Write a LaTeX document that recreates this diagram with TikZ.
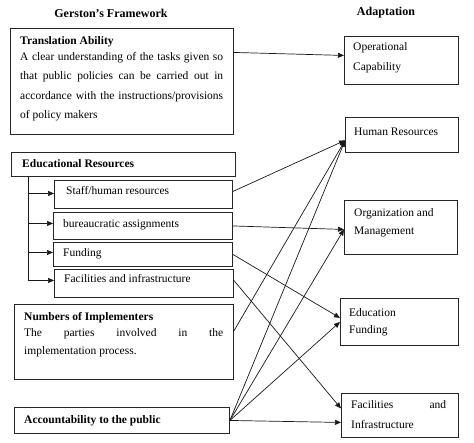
\documentclass[tikz,border=0pt]{standalone}
\usepackage{fontspec}
\setmainfont{Liberation Serif}
\usetikzlibrary{arrows.meta,calc}
\begin{document}
\begin{tikzpicture}[x=1pt,y=1pt,
  box/.style={draw=black!85, line width=0.9pt, inner sep=0pt, anchor=north west},
  txt/.style={inner sep=0pt, font=\fontsize{11.5}{19.5}\selectfont},
  con/.style={line width=0.7pt, draw=black!90, -{Triangle[length=6pt,width=5pt]}},
  ttl/.style={inner sep=0pt, font=\fontsize{12}{14}\selectfont\bfseries}]
\useasboundingbox (0,0) rectangle (474,-443);
% titles
\node[ttl] (gt) at (111,-13) {Gerston’s Framework};
\node[ttl] (at) at (386,-13) {Adaptation};
% left boxes
\node[box, minimum width=223pt, minimum height=106pt] (trans) at (10,-28) {};
\node[box, minimum width=224pt, minimum height=24pt] (edu) at (11,-152) {};
\node[box, minimum width=178pt, minimum height=28pt] (staff) at (54,-180) {};
\node[box, minimum width=179pt, minimum height=27pt] (bureau) at (53,-212) {};
\node[box, minimum width=179pt, minimum height=24pt] (fund) at (53,-242) {};
\node[box, minimum width=179pt, minimum height=28pt] (facil) at (54,-269) {};
\node[box, minimum width=219pt, minimum height=75pt] (num) at (14,-304) {};
\node[box, minimum width=215pt, minimum height=26pt] (acc) at (14,-407) {};
% right boxes
\node[box, minimum width=114pt, minimum height=48pt] (opcap) at (344,-36) {};
\node[box, minimum width=113pt, minimum height=35pt] (hr) at (345,-117) {};
\node[box, minimum width=113pt, minimum height=54pt] (org) at (344,-200) {};
\node[box, minimum width=118pt, minimum height=47pt] (edf) at (340,-298) {};
\node[box, minimum width=117pt, minimum height=44pt] (fi) at (341,-393) {};
% texts
\node[txt, anchor=north west, text width=203pt, align=justify] (transt) at (20,-36)
  {\textbf{Translation Ability}\\[-3.5pt]A clear understanding of the tasks given so\linebreak that public policies can be carried out in\linebreak accordance with the instructions/provisions\linebreak of policy makers};
\node[txt, anchor=base west] (edut) at (22,-168) {\textbf{Educational Resources}};
\node[txt, anchor=base west] (stafft) at (66,-195) {Staff/human resources};
\node[txt, anchor=base west] (bureaut) at (63,-228) {bureaucratic assignments};
\node[txt, anchor=base west] (fundt) at (63,-257) {Funding};
\node[txt, anchor=base west] (facilt) at (64,-283) {Facilities and infrastructure};
\node[txt, anchor=north west, text width=199pt, align=justify, font=\fontsize{11.5}{18}\selectfont] (numt) at (24,-312)
  {\textbf{Numbers of Implementers}\\[-2pt]The parties involved in the\linebreak implementation process.};
\node[txt, anchor=base west] (acct) at (24,-424) {\textbf{Accountability to the public}};
\node[txt, anchor=north west, align=left, font=\fontsize{11.5}{20}\selectfont] (opcapt) at (353,-42) {Operational\\Capability};
\node[txt, anchor=base west] (hrt) at (354,-136) {Human Resources};
\node[txt, anchor=north west, align=left, font=\fontsize{11.5}{18}\selectfont] (orgt) at (354,-208) {Organization and\\Management};
\node[txt, anchor=north west, align=left, font=\fontsize{11.5}{17}\selectfont] (edft) at (349,-308) {Education\\Funding};
\node[txt, anchor=north west, text width=95pt, align=justify, font=\fontsize{11.5}{20}\selectfont] (fit) at (351,-400) {Facilities and\linebreak Infrastructure};
% trunk from Educational Resources
\coordinate (trunk) at ([xshift=17pt]edu.south west);
\draw[con] (trunk) |- ([yshift=1pt]staff.west);
\draw[con] (trunk) |- ([yshift=2.5pt]bureau.west);
\draw[con] (trunk) |- ([yshift=2pt]fund.west);
\draw[con] (trunk) |- ([yshift=3pt]facil.west);
% connectors
\draw[con] ([yshift=29pt]trans.east) -- ([yshift=5pt]opcap.west);
\draw[con] ([yshift=3pt]staff.east) -- ([yshift=-5.5pt]hr.west);
\draw[con] (bureau.east) -- ([yshift=-2pt]org.west);
\draw[con] (fund.east) -- ([yshift=4pt]edf.west);
\draw[con] ([yshift=3pt]facil.east) -- ([yshift=7pt]fi.west);
\draw[con] ([yshift=11pt]num.east) -- ([yshift=-5.5pt]hr.west);
\draw[con] (acc.east) -- ([yshift=-5.5pt]hr.west);
\draw[con] (acc.east) -- ([yshift=-2pt]org.west);
\draw[con] (acc.east) -- (edf.west);
\draw[con] (acc.east) -- ([yshift=-7pt]fi.west);
\end{tikzpicture}
\end{document}
